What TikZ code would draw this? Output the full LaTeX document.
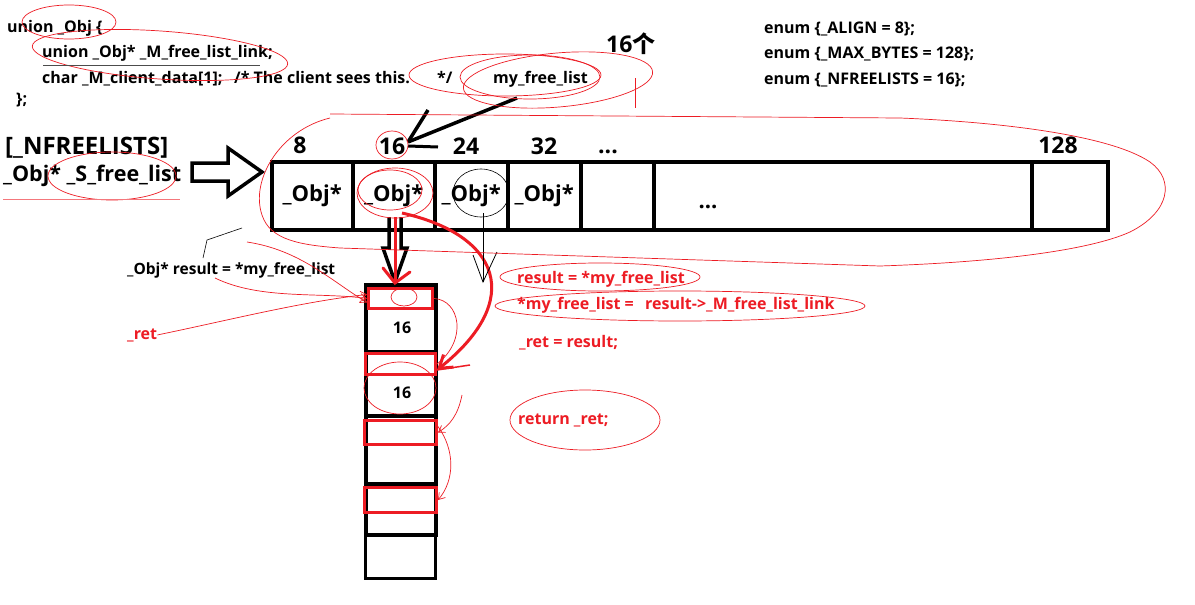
\documentclass[tikz,border=0pt]{standalone}
\usepackage{fontspec}
\setmainfont{Open Sans}
\newfontfamily\cjk{Noto Sans CJK SC}
\usetikzlibrary{arrows.meta}
\definecolor{pr}{RGB}{237,28,36}
\newcommand\fsz[1]{\fontsize{#1}{#1}\selectfont\bfseries}
\tikzset{
  code/.style={anchor=base west, inner sep=0pt, font=\fsz{16}},
  rcode/.style={code, text=pr},
  big/.style={anchor=base west, inner sep=0pt, font=\fsz{23}},
  cell/.style={draw, line width=3.5pt, anchor=north west, inner sep=0pt, font=\fsz{22}},
  blk/.style={draw, line width=4pt, anchor=north west, inner sep=0pt},
  rbox/.style={draw=pr, line width=3pt, anchor=north west, inner sep=0pt},
  scrib/.style={draw=pr, line width=0.7pt},
  hollow/.style={draw, line width=3.5pt, line join=miter},
}
\begin{document}
\begin{tikzpicture}[x=1pt,y=-1pt]
\useasboundingbox[fill=white] (0,0) rectangle (1195,605);

% code at top left
\node[code] (u1) at (7,32) {union \_Obj \{};
\node[code] (u2) at (42,57) {union \_Obj* \_M\_free\_list\_link;};
\node[code] (u3) at (42,83) {char \_M\_client\_data[1];};
\node[code] (u3b) at (234,83) {/* The client sees this.};
\node[code] (u3c) at (437,83) {*/};
\node[code] (mfl) at (493,83) {my\_free\_list};
\node[code] (u4) at (16,104) {\};};

\node[anchor=base west, inner sep=0pt, font=\fsz{23}] (n16) at (606,52) {16{\cjk\bfseries 个}};

\node[code] (e1) at (764,33) {enum \{\_ALIGN = 8\};};
\node[code] (e2) at (764,58) {enum \{\_MAX\_BYTES = 128\};};
\node[code] (e3) at (764,84) {enum \{\_NFREELISTS = 16\};};

% left label
\node[big, font=\fsz{24}] (l1) at (5,154) {[\_NFREELISTS]};
\node[big, font=\fsz{21.5}] (l2) at (3,181) {\_Obj* \_S\_free\_list};

% hollow right arrow
\draw[hollow] (192,163) -- (228,163) -- (228,148) -- (262,172) -- (228,196) -- (228,181) -- (192,181) -- cycle;

% array cells
\node[cell, minimum width=81pt, minimum height=68pt] (c1) at (270,160) {\_Obj*};
\node[cell, minimum width=82pt, minimum height=68pt] (c2) at (351,160) {\_Obj*};
\node[cell, minimum width=73pt, minimum height=68pt] (c3) at (433,160) {\_Obj*};
\node[cell, minimum width=73pt, minimum height=68pt] (c4) at (506,160) {\_Obj*};
\node[cell, minimum width=73pt, minimum height=68pt] (c5) at (579,160) {};
\node[cell, minimum width=378pt, minimum height=68pt] (c6) at (652,160) {};
\node[cell, minimum width=76pt, minimum height=68pt] (c7) at (1030,160) {};
\node[anchor=base, inner sep=0pt, font=\fsz{22}] (dots2) at (708,208) {...};

% labels above
\node[big, anchor=base] (t8) at (300,153) {8};
\node[big, anchor=base] (t16) at (392,154) {16};
\node[big, anchor=base] (t24) at (466,154) {24};
\node[big, anchor=base] (t32) at (544,154) {32};
\node[big, anchor=base] (tdots) at (608,153) {...};
\node[big, anchor=base] (t128) at (1058,153) {128};

% black lines from my_free_list to 16
\coordinate (m1) at (517,98);
\coordinate (m2) at (428,110);
\coordinate (m0) at (408,142);
\draw[line width=3.5pt] (m1) -- (m0);
\draw[line width=3.5pt] (m2) -- (m0);
\draw[line width=3pt] (408,146) -- (438,147);

% column of blocks
\node[blk, minimum width=70pt, minimum height=67pt] (b1) at (364,283) {};
\node[blk, minimum width=70pt, minimum height=64pt] (b2) at (364,350) {};
\node[blk, minimum width=70pt, minimum height=68pt] (b3) at (364,414) {};
\node[blk, minimum width=70pt, minimum height=51pt] (b4) at (364,482) {};
\node[draw, line width=3pt, anchor=north west, inner sep=0pt, minimum width=70pt, minimum height=44pt] (b5) at (364,533) {};
\node[rbox, minimum width=64pt, minimum height=20pt] (r1) at (367,287) {};
\node[rbox, minimum width=70pt, minimum height=21pt] (r2) at (364,352) {};
\node[rbox, minimum width=72pt, minimum height=24pt] (r3) at (363,419) {};
\node[rbox, minimum width=72pt, minimum height=25pt] (r4) at (363,486) {};
\node[anchor=base, inner sep=0pt, font=\fsz{16}] (s1) at (402,333) {16};
\node[anchor=base, inner sep=0pt, font=\fsz{16}] (s2) at (402,398) {16};

% hollow down arrow
\draw[hollow] (389,217) -- (389,248) -- (383,248) -- (395,282) -- (407,248) -- (401,248) -- (401,217);
\draw[pr, line width=3pt] (395,217) -- (395,283);
\draw[pr, line width=3pt, line cap=round] (383,268) -- (395,283) -- (410,272);

% big red curved arrow
\draw[pr, line width=3pt, -{Straight Barb[length=12pt,width=16pt]}] (402,213) .. controls (500,235) and (525,300) .. (437,370);
\draw[pr, line width=1.5pt] (437,370) -- (470,365);

% thin black arrow from cell 24
\draw[line width=0.8pt] (483,213) -- (483,282);
\draw[line width=0.8pt] (473,255) -- (483,282) -- (497,252);
\draw[line width=0.6pt] (481,193) ellipse [x radius=28, y radius=24];

% left annotations
\node[code, font=\fsz{15.5}] (res) at (127,274) {\_Obj* result = *my\_free\_list};
\node[rcode] (ret) at (127,339) {\_ret};

% right red annotations
\node[rcode] (a1) at (517,283) {result = *my\_free\_list};
\node[rcode] (a2) at (517,309) {*my\_free\_list =};
\node[rcode] (a2b) at (645,309) {result->\_M\_free\_list\_link};
\node[rcode] (a3) at (519,347) {\_ret = result;};
\node[rcode] (a4) at (518,424) {return \_ret;};

% red scribbles
\draw[scrib] (69,22) ellipse [x radius=47, y radius=17];
\draw[scrib, rotate around={-4:(160,55)}] (160,55) ellipse [x radius=128, y radius=24];
\draw[line width=0.6pt, black!70] (43,65) -- (260,65);
\draw[scrib] (112,176) ellipse [x radius=64, y radius=24];
\draw[pr!60, line width=0.8pt] (3,199) -- (180,199);
\draw[scrib] (530,77) ellipse [x radius=70, y radius=22];
\draw[scrib] (505,75) ellipse [x radius=96, y radius=21];
\draw[scrib, rotate around={5:(558,80)}] (558,80) ellipse [x radius=95, y radius=27];
\draw[scrib] (635,78) -- (635,108);
\draw[scrib] (330,118) .. controls (280,130) and (250,180) .. (262,215) .. controls (270,240) and (300,245) .. (340,248) -- (880,266) .. controls (1000,262) and (1090,250) .. (1130,232) .. controls (1170,212) and (1175,180) .. (1150,162) .. controls (1110,135) and (1000,122) .. (900,118) -- (330,114);
\draw[scrib] (395,193) ellipse [x radius=38, y radius=25];
\draw[scrib] (390,190) ellipse [x radius=32, y radius=20];
\draw[scrib] (392,145) ellipse [x radius=16, y radius=14];
\draw[scrib] (404,297) ellipse [x radius=13, y radius=9];
\draw[scrib] (400,388) ellipse [x radius=36, y radius=26];
\draw[scrib] (600,277) ellipse [x radius=100, y radius=14];
\draw[scrib] (680,306) ellipse [x radius=185, y radius=15];
\draw[scrib] (585,420) ellipse [x radius=75, y radius=30];
\draw[scrib, -{Straight Barb[length=6pt,width=8pt]}] (215,278) .. controls (260,300) and (320,292) .. (r1.west);
\draw[scrib, -{Straight Barb[length=6pt,width=8pt]}] (247,242) .. controls (300,250) and (330,280) .. ([yshift=-4pt]r1.west);
\draw[scrib, -{Straight Barb[length=6pt,width=8pt]}] (ret.east) .. controls (230,320) and (300,302) .. ([yshift=4pt]r1.west);
\draw[scrib] (r1.east) .. controls (460,300) and (468,340) .. (r2.east);
\draw[scrib, -{Straight Barb[length=6pt,width=8pt]}] (462,395) .. controls (458,415) and (450,425) .. (r3.east);
\draw[scrib, -{Straight Barb[length=6pt,width=8pt]}] ([yshift=6pt]r3.east) .. controls (455,450) and (455,480) .. (r4.east);
\draw[line width=0.6pt] (242,228) -- (207,240) -- (203,258);
\end{tikzpicture}
\end{document}
